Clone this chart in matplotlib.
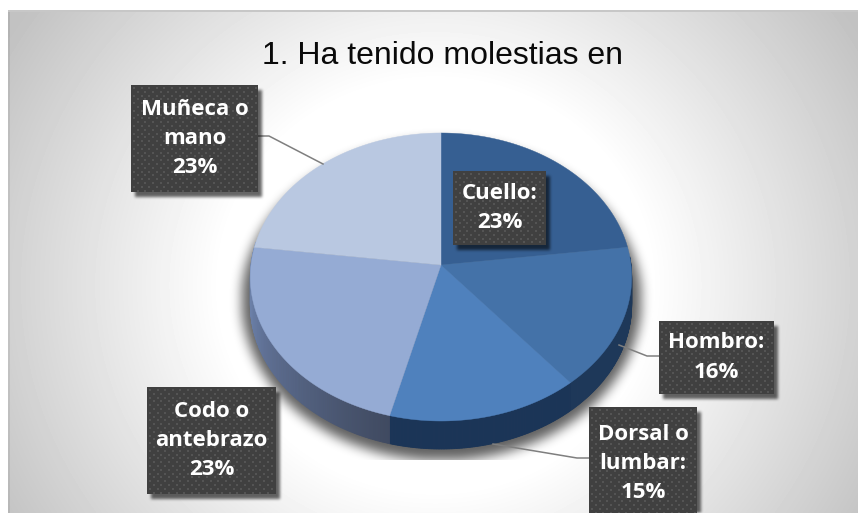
import numpy as np
import matplotlib
matplotlib.use('Agg')
import matplotlib.pyplot as plt

# data
categories = ['Cuello:', 'Hombro:', 'Dorsal o\nlumbar:', 'Codo o\nantebrazo', 'Muñeca o\nmano']
values = [23, 16, 15, 23, 23]
top_colors = ['#365F92', '#4472A8', '#4F81BD', '#95ABD4', '#B9C8E1']
side_colors = ['#1C3353', '#1E3859', '#1B3557', '#55678A', '#8296BC']
title = '1. Ha tenido molestias en'

W, H = 858, 513
cx, cy = 441, 265
rx, ry, k = 190, 143, 0.0833   # the pie is seen in slight perspective
depth = 28


def project(theta):
    u, v = np.sin(theta), -np.cos(theta)
    w = 1 - k * v
    return cx + rx * u / w, cy + ry * v / w


def blur(a, size, passes=3):
    kernel = np.ones(size) / size
    for _ in range(passes):
        a = np.apply_along_axis(lambda r: np.convolve(r, kernel, mode='same'), 0, a)
        a = np.apply_along_axis(lambda r: np.convolve(r, kernel, mode='same'), 1, a)
    return a


fig = plt.figure(figsize=(W / 100, H / 100), dpi=100)
ax = fig.add_axes([0, 0, 1, 1])
yy, xx = np.mgrid[0:H, 0:W]

# background: white middle, grey towards the corners
dist = np.hypot(xx - 435, (yy - 285) * 1.05)
bg = 1 - 0.24 * np.clip((dist - 215) / 285, 0, 1)
bg[xx < 8] = 1
bg[yy < 10] = 1
bg[(yy >= 10) & (yy < 12) & (xx >= 8)] = 0.78
bg[(xx >= 8) & (xx < 10) & (yy >= 12)] *= 0.93
ax.imshow(bg, cmap='gray', vmin=0, vmax=1, extent=(0, W, H, 0), aspect='auto', zorder=0)

# soft shadow under the pie, cut off flat at the bottom
mask = (((xx - 441) / 200.0) ** 2 + ((yy - 300) / 160.0) ** 2 < 1).astype(float)
shadow = blur(mask, 11) * 0.62
shadow[yy > 459] = 0
rgba = np.zeros((H, W, 4))
rgba[..., 3] = shadow
ax.imshow(rgba, extent=(0, W, H, 0), aspect='auto', zorder=1)

# pie side wall and top faces
edges = np.cumsum([0] + values) / sum(values) * 2 * np.pi
for i in range(len(values)):
    th = np.linspace(edges[i], edges[i + 1], 120)
    x, y = project(th)
    for j in range(len(th) - 1):
        if th[j] < np.pi * 0.48 or th[j] > np.pi * 1.55:
            continue
        color = side_colors[i]
        if i == 3:
            # wall of this slice gets darker towards the front
            f = (th[j] - edges[i]) / (edges[i + 1] - edges[i])
            c0 = np.array([0.25, 0.29, 0.38])
            c1 = np.array([0.42, 0.50, 0.66])
            color = tuple(c0 + (c1 - c0) * min(f * 1.25, 1))
        ax.fill([x[j], x[j + 1], x[j + 1], x[j]],
                [y[j], y[j + 1], y[j + 1] + depth, y[j] + depth],
                color=color, lw=0.6, zorder=2)
for i in range(len(values)):
    th = np.linspace(edges[i], edges[i + 1], 120)
    x, y = project(th)
    ax.fill(np.r_[cx, x], np.r_[cy, y], color=top_colors[i], lw=0.3, zorder=3)

# leader lines
leaders = [([258, 269, 323], [136, 136, 164]),
           ([659, 647, 619], [356, 356, 345]),
           ([589, 577, 493], [458, 458, 444])]
for lx, ly in leaders:
    ax.plot(lx, ly, color='#7F7F7F', lw=1.1, zorder=4)

# label boxes: left, right, top, bottom
boxes = [(453, 546, 171, 245), (659, 774, 321, 394), (589, 697, 407, 520),
         (147, 276, 387, 494), (131, 258, 85, 192)]
box_mask = np.zeros((H, W))
for l, r, t, b in boxes:
    box_mask[t + 5:b + 5, l + 4:r + 4] = 1
rgba = np.zeros((H, W, 4))
rgba[..., 3] = blur(box_mask, 3) * 0.6
ax.imshow(rgba, extent=(0, W, H, 0), aspect='auto', zorder=5)

for (l, r, t, b), cat, val in zip(boxes, categories, values):
    ax.fill([l, r, r, l], [t, t, b, b], color='#404040', lw=0, zorder=6)
    gx, gy = np.meshgrid(np.arange(l + 3, r, 7.6), np.arange(t + 3, b, 7.6))
    px = np.r_[gx.ravel(), gx.ravel() + 3.8]
    py = np.r_[gy.ravel(), gy.ravel() + 3.8]
    keep = (px < r - 1) & (py < b - 1)
    ax.scatter(px[keep], py[keep], s=1.3, marker='s', color='#545454', lw=0, zorder=7)
    mid = (t + min(b, t + 113 if b > H else b)) / 2
    ax.text((l + r) / 2, mid, f'{cat}\n{val}%', color='white', family='Open Sans', weight='bold',
            fontsize=16, ha='center', va='center', linespacing=1.5, zorder=8)

ax.text(442, 56, title, family='Liberation Sans', fontsize=23, color='#0A0A0A',
        ha='center', va='center', zorder=8)

ax.set_xlim(0, W)
ax.set_ylim(H, 0)
ax.axis('off')
fig.savefig('out.png', dpi=100)
